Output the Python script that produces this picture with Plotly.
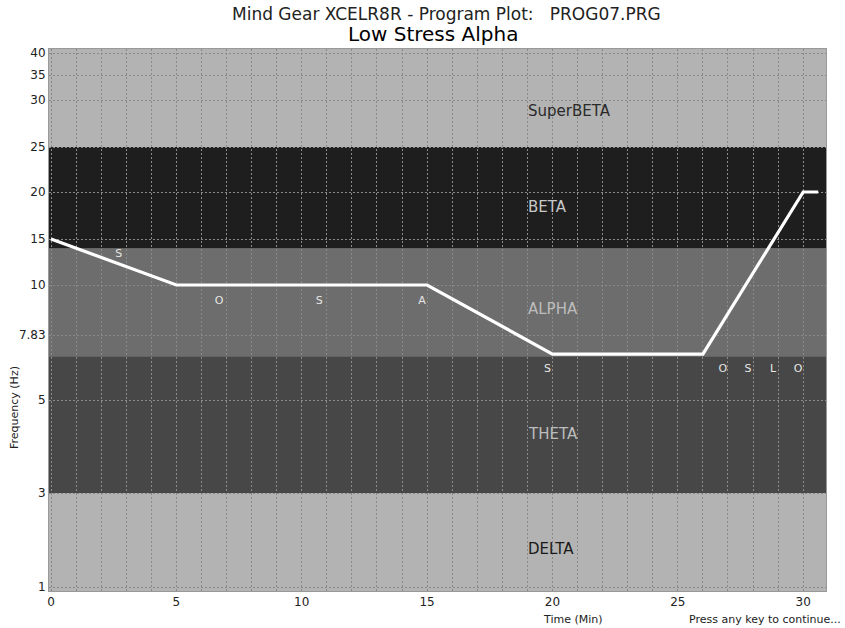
import numpy as np
import plotly.graph_objects as go

# ---- data ----
prog_time = [0, 5, 15, 20, 26, 30, 30.6]          # minutes
prog_freq = [15, 10, 10, 7.0, 7.0, 20, 20]        # Hz

seg_labels = ["S", "O", "S", "A", "S", "O", "S", "L", "O"]
seg_time = [2.7, 6.7, 10.7, 14.8, 19.8, 26.8, 27.8, 28.8, 29.8]
seg_freq = [13.3, 9.3, 9.3, 9.3, 6.35, 6.35, 6.35, 6.35, 6.35]

band_names = ["DELTA", "THETA", "ALPHA", "BETA", "SuperBETA"]
band_low = [0.9, 3, 6.9, 14, 25]
band_high = [3, 6.9, 14, 25, 41]
band_label_freq = [1.8, 4.27, 8.96, 18.4, 28.8]

y_tick_hz = [1, 3, 5, 7.83, 10, 15, 20, 25, 30, 35, 40]
y_tick_text = ["1", "3", "5", "7.83", "10", "15", "20", "25", "30", "35", "40"]
x_ticks = [0, 5, 10, 15, 20, 25, 30]

# custom (non-uniform) frequency axis of the original program: Hz -> axis units
scale_hz = [0.9, 1, 3, 5, 7.83, 10, 15, 20, 25, 30, 35, 40, 41]
scale_pos = [0, 4, 98, 191, 256, 306, 352, 399, 444, 491, 516, 538, 542]


def fpos(v):
    return np.interp(v, scale_hz, scale_pos)


band_fill = ["#b3b3b3", "#474747", "#6d6d6d", "#1e1e1e", "#b3b3b3"]
band_text = ["#1a1a1a", "#bdbdbd", "#bdbdbd", "#c8c8c8", "#2a2a2a"]

FONT = "DejaVu Sans"
L, R, T, B = 49, 19, 49, 37
PW, PH = 845 - L - R, 628 - T - B
GRID = "#8a8a8a"
DASH = "2px,2px"


def px(x):
    return (x - L) / PW


def py(y):
    return (628 - B - y) / PH


fig = go.Figure()

shapes = []
for lo, hi, col in zip(band_low, band_high, band_fill):
    shapes.append(dict(type="rect", xref="paper", yref="y", x0=0, x1=1,
                       y0=float(fpos(lo)), y1=float(fpos(hi)),
                       fillcolor=col, line_width=0, layer="below"))

fig.add_trace(go.Scatter(x=prog_time, y=fpos(prog_freq), mode="lines",
                         line=dict(color="white", width=3.2),
                         hoverinfo="skip", showlegend=False))

fig.add_trace(go.Scatter(x=seg_time, y=fpos(seg_freq), mode="text",
                         text=seg_labels,
                         textfont=dict(family=FONT, size=11, color="#e6e6e6"),
                         hoverinfo="skip", showlegend=False))

annotations = []
for name, f, c in zip(band_names, band_label_freq, band_text):
    annotations.append(dict(x=18.95, y=float(fpos(f)), xref="x", yref="y",
                            text=name, showarrow=False, xanchor="left",
                            yanchor="middle",
                            font=dict(family=FONT, size=15, color=c)))

annotations += [
    dict(x=px(446), y=py(14), xref="paper", yref="paper", showarrow=False,
         xanchor="center", yanchor="middle",
         text="Mind Gear XCELR8R - Program Plot:   PROG07.PRG",
         font=dict(family=FONT, size=17, color="#222222")),
    dict(x=px(433), y=py(34), xref="paper", yref="paper", showarrow=False,
         xanchor="center", yanchor="middle", text="Low Stress Alpha",
         font=dict(family=FONT, size=20, color="#000000")),
    dict(x=px(14), y=py(408), xref="paper", yref="paper",
         showarrow=False, text="Frequency (Hz)", textangle=-90,
         xanchor="center", yanchor="middle",
         font=dict(family=FONT, size=11, color="#222222")),
    dict(x=px(573), y=py(619), xref="paper", yref="paper",
         showarrow=False, text="Time (Min)", xanchor="center",
         yanchor="middle", font=dict(family=FONT, size=11, color="#222222")),
    dict(x=px(843), y=py(619), xref="paper", yref="paper",
         showarrow=False, text="Press any key to continue...",
         xanchor="right", yanchor="middle",
         font=dict(family=FONT, size=11, color="#222222")),
]

fig.update_layout(
    width=845, height=628,
    margin=dict(l=L, r=R, t=T, b=B, autoexpand=False),
    paper_bgcolor="white", plot_bgcolor="#b3b3b3",
    shapes=shapes, annotations=annotations,
    font=dict(family=FONT, size=12, color="#222222"),
    xaxis=dict(range=[-0.08, 30.91], tickvals=x_ticks,
               ticktext=[str(v) for v in x_ticks], ticks="",
               automargin=False,
               showgrid=True, gridcolor=GRID, griddash=DASH,
               gridwidth=1, zeroline=False,
               minor=dict(dtick=1, tick0=0, showgrid=True,
                          gridcolor=GRID, griddash=DASH, gridwidth=1),
               showline=True, linecolor="#9a9a9a", linewidth=1, mirror=True,
               tickfont=dict(family=FONT, size=12, color="#222222")),
    yaxis=dict(range=[0, 542], tickvals=[float(v) for v in fpos(y_tick_hz)],
               ticktext=y_tick_text, ticks="", automargin=False,
               showgrid=True, gridcolor=GRID, griddash=DASH,
               gridwidth=1, zeroline=False,
               showline=True, linecolor="#9a9a9a", linewidth=1, mirror=True,
               tickfont=dict(family=FONT, size=12, color="#222222")),
)

fig.write_html(
    "out.html",
    config={"displayModeBar": False},
    post_script="document.body.style.margin='0';"
                "document.body.style.overflow='hidden';",
)
